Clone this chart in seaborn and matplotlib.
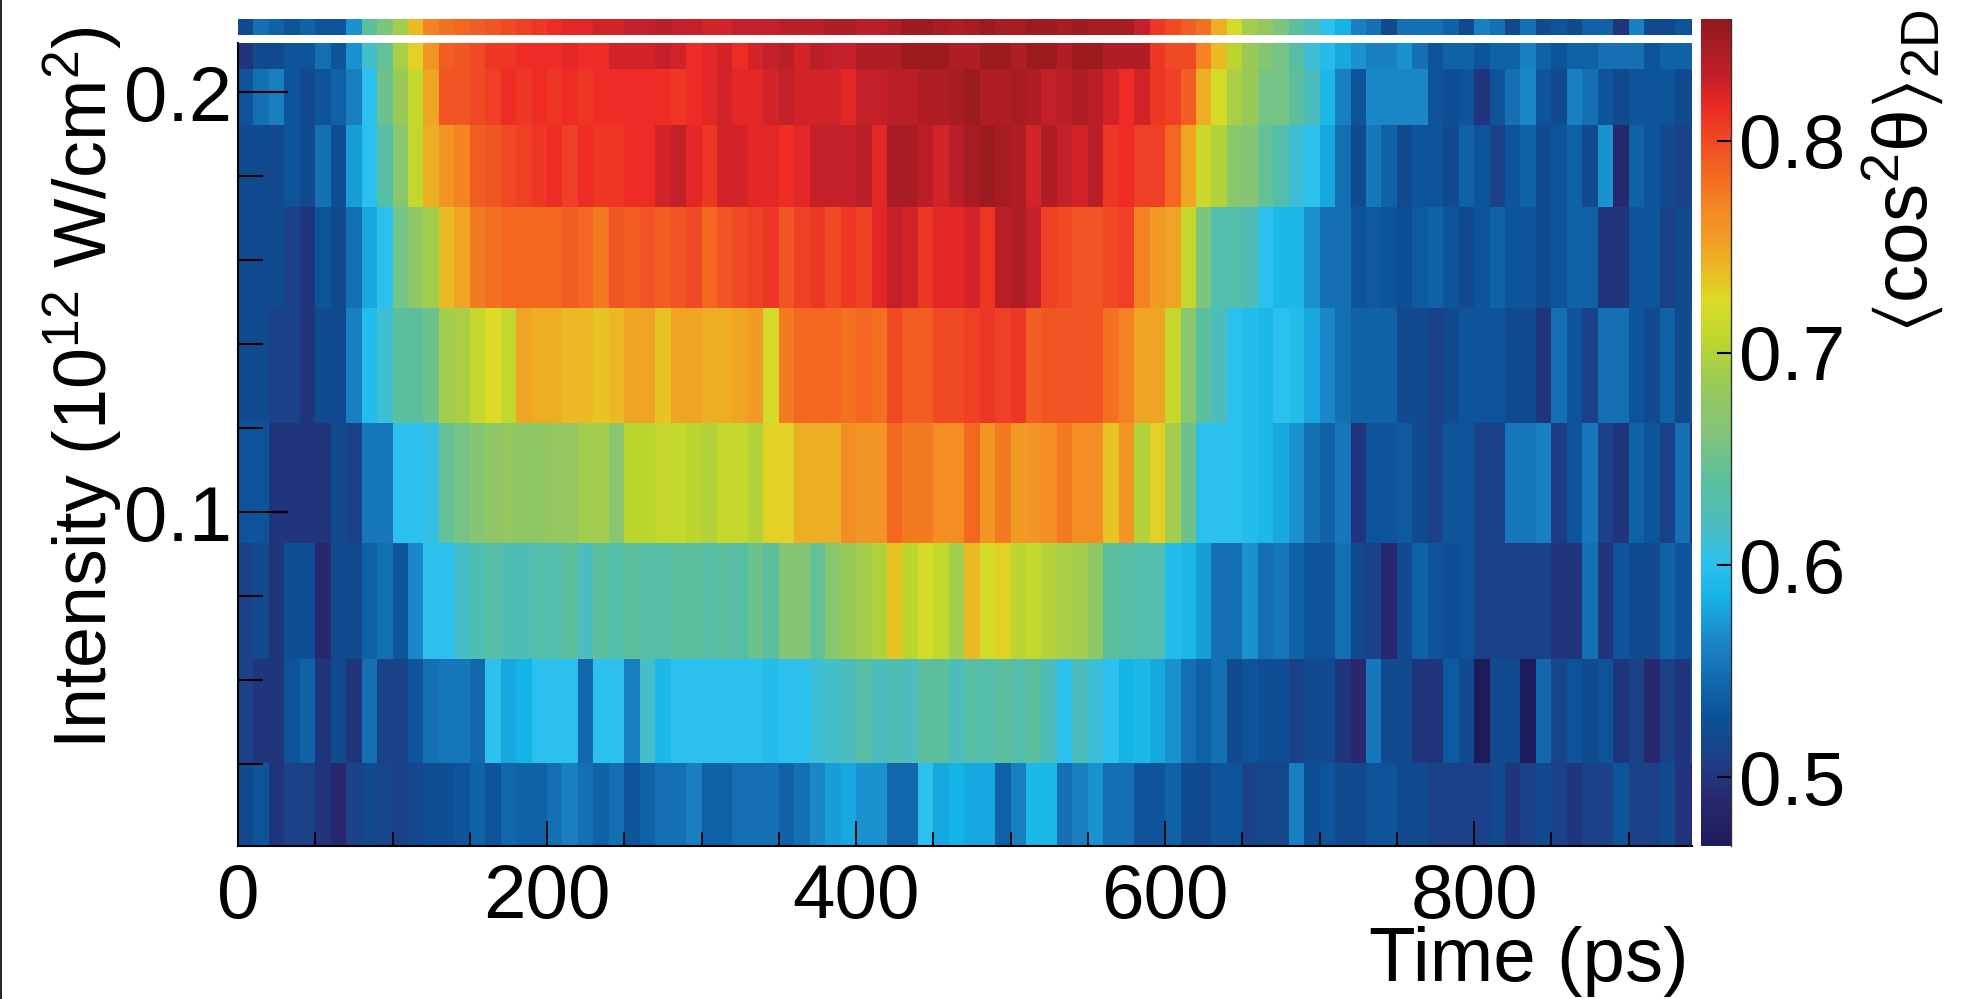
import matplotlib
matplotlib.use('Agg')
import matplotlib.pyplot as plt
import numpy as np
import seaborn as sns
from matplotlib.colors import LinearSegmentedColormap
from matplotlib.lines import Line2D

# cos^2 values x100, one column per 10 ps, rows from the top of the plot down
strip = [52, 55, 54, 53, 54, 53, 53, 57, 64, 66,
         69, 74, 77, 78, 78.5, 79, 79.5, 80, 80.5, 81,
         81.5, 82, 82, 82.5, 82.5, 83, 83, 83.5, 83, 83,
         82.5, 82.5, 83, 83, 83, 83.5, 83.5, 83.5, 84, 84,
         83.5, 83.5, 84, 85, 85, 84.5, 84, 84.5, 85, 84.5,
         84.5, 85, 85, 84.5, 85, 84.5, 84.5, 84.5, 83, 81,
         80, 79, 78, 74.5, 72, 69, 68, 66, 64, 62,
         60, 58.5, 56, 55, 52, 55, 55, 55, 54, 52,
         56, 55, 52, 55, 52, 53, 52, 54, 54, 50,
         56, 52, 52, 53, 52]
row_a = [50, 52, 52, 53, 53, 55, 53, 57, 61.5, 64.5,
         69.5, 73, 76, 79, 79.5, 80, 81, 81, 81.5, 81.5,
         81.5, 82, 81.5, 81.5, 82.5, 82.5, 82.5, 83, 82.5, 81.5,
         82, 82.5, 81.5, 82.5, 83, 83.5, 82.5, 83.5, 83, 83,
         84, 84, 84, 85, 85, 85, 84, 84, 85, 85,
         84, 85, 85, 84, 85, 85, 84, 84, 84, 81,
         80, 80, 77, 74, 70.5, 68.5, 66.5, 65.5, 63.5, 61,
         59.5, 58, 57, 56, 56, 57, 55, 53, 54, 54,
         53, 54, 54, 56, 54, 53, 54, 54, 55, 55,
         55, 53, 54, 54, 54]
row_b = [53, 55, 56, 53, 52, 53, 54, 56, 60, 65,
         68.5, 71, 75, 79.5, 79.5, 80, 80.5, 81.5, 81, 81.5,
         81, 81.5, 81, 81.5, 81.5, 81.5, 81.5, 81.5, 81, 81.5,
         82, 82.5, 82, 82, 82.5, 83, 82.5, 82.5, 82.5, 82,
         83, 83, 83.5, 83.5, 84, 84, 84.5, 85, 84, 84,
         84.5, 84, 83, 83.5, 84, 83.5, 82.5, 81.5, 82.5, 81,
         80.5, 79, 74.5, 72, 69.5, 68.5, 65.5, 65.5, 64, 62,
         59, 56, 53, 56.5, 56.5, 56.5, 56.5, 53, 52.5, 53,
         50, 53, 55, 56.5, 53, 52, 56, 55, 53, 52,
         53, 53, 53, 52, 52]
row_c = [52, 52, 52, 53, 52, 55, 52.5, 57.5, 60, 63.5,
         67, 71, 74.5, 76, 77, 79, 79.5, 80, 80.5, 81,
         81.5, 80.5, 81.5, 81, 81, 81.5, 81.5, 82.5, 83, 82,
         81, 82.5, 82.5, 82, 82, 81.5, 82, 83, 83, 83,
         83.5, 82, 84.5, 84.5, 83.5, 82.5, 83.5, 84.5, 85, 84.5,
         84, 82.5, 84, 83, 82.5, 83.5, 81, 81.5, 80.5, 80.5,
         78.5, 75, 71.5, 70, 67, 66.5, 64.5, 63, 61, 60,
         58, 55, 52, 55.5, 54, 52, 53, 53, 52, 54,
         53, 51, 53, 54, 52, 53, 54, 52, 57, 49,
         54, 53, 52, 51, 52]
row_d = [52, 52, 52, 51, 50, 53, 52, 55, 58, 60,
         65.5, 67.5, 69, 74, 75, 77.5, 78, 78.5, 78.5, 78.5,
         78.5, 79, 78.5, 77.5, 79.5, 79, 79.5, 79, 79.5, 80,
         78.5, 79.5, 80, 80.5, 81, 79.5, 80.5, 81, 80, 81,
         80.5, 82, 83, 82.5, 81, 82, 82, 82.5, 81, 83.5,
         84, 83, 80.5, 80, 79.5, 79.5, 80, 80.5, 77, 75.5,
         75, 71, 66, 63, 63, 62.5, 60, 59, 59, 57,
         55, 55, 53, 53.5, 53, 52.5, 53.5, 54, 53, 52,
         53, 54, 53, 53, 52, 53, 54, 54, 50, 50,
         53, 53, 51, 52, 52]
row_e = [52, 52, 51, 51, 50, 52, 52, 56, 59.5, 61,
         64, 64, 65, 69, 69.5, 71, 72.5, 71, 75, 74.5,
         74.5, 74, 74, 73.5, 74, 75, 75, 73.5, 75, 75,
         74.5, 74.5, 75, 75.5, 72, 77.5, 78.5, 78.5, 78.5, 78,
         78.5, 78, 80, 79, 79, 80, 80, 80.5, 81, 80.5,
         81, 79, 79.5, 79.5, 79.5, 79.5, 78, 77, 75, 75,
         71, 67, 64, 62, 60, 59.5, 59, 60, 59.5, 58,
         56.5, 55, 54, 54, 54, 52, 52, 51, 52, 53,
         53, 53, 52, 52, 50, 55, 53, 51, 55, 55,
         53, 52, 54, 52, 53]
row_f = [53, 53, 50, 50, 50, 50, 52, 51, 55.5, 55.5,
         60, 60, 60.5, 64.5, 65.5, 66.5, 67.5, 68, 67.5, 67.5,
         68, 68, 69, 69, 67, 70.5, 70.5, 71, 71, 70.5,
         70, 71, 71, 70, 73, 73, 74.5, 74.5, 74.5, 76.5,
         76, 76, 78.5, 77.5, 77.5, 76.5, 76.5, 78.5, 76, 77.5,
         75.5, 76, 76.5, 77.5, 76.5, 76.5, 73.5, 76, 70, 73,
         69, 65, 60, 60, 60, 59.5, 59, 58, 57, 55,
         54, 55.5, 50, 53, 53, 53.5, 52, 51, 53, 53,
         51, 51, 55.5, 55.5, 56, 50.5, 53, 55.5, 51, 50,
         54, 53, 51, 55, 50]
row_g = [51, 52, 50, 52.5, 52.5, 49, 52, 52, 54, 55,
         53, 56.5, 60, 60, 61.5, 62.5, 63.5, 62.5, 62.5, 63,
         63, 64, 62, 64, 63, 64, 63.5, 63.5, 64, 64,
         63.5, 64, 63.5, 65, 64, 66.5, 66.5, 64.5, 67, 68.5,
         69, 70, 73.5, 70.5, 72, 71, 69, 74, 72, 73,
         70.5, 71, 70, 69.5, 69, 67.5, 64, 63.5, 63, 63,
         59.5, 59, 57.5, 55, 55, 57, 55, 55.5, 54, 53,
         53, 55, 52, 51, 49, 52, 54, 53, 52.5, 53,
         51, 51, 51, 51, 51, 50, 50, 55, 50, 53,
         52, 52, 54, 53, 53]
row_h = [51, 50, 50, 53, 54, 50, 52, 50, 55, 51,
         51, 53, 55, 55.5, 55.5, 54.5, 60, 58, 58.5, 60,
         60, 60, 54.5, 60, 60, 56, 61.5, 59, 60, 60,
         60, 60, 60, 60, 59.5, 60, 60, 61, 61.5, 62,
         63.5, 62, 62.5, 62, 64, 64, 62, 63.5, 63, 64,
         63, 64, 62, 60, 62, 61, 60, 58.5, 59, 58,
         57, 55, 54, 55, 52, 53, 52.5, 52.5, 51, 52,
         52, 50, 49, 55.5, 52, 52, 50, 50, 53.5, 52,
         46.5, 52, 52, 46.5, 54.5, 51.5, 53, 52, 53, 50,
         51, 49, 51, 50, 52]
row_i = [52, 53, 50, 51, 51, 50, 49, 51, 52, 51.5,
         51, 51.5, 52.5, 52.5, 53, 54, 53, 54.5, 54, 54,
         55, 56, 55, 54, 55, 53, 54, 55, 55, 56,
         54, 54, 55, 55, 55, 54, 55, 56.5, 57.5, 58,
         57, 57, 54.5, 54.5, 60, 58, 58.5, 58, 58, 54,
         56, 59, 59, 55, 56, 57, 55, 55, 53, 53,
         54, 52, 52, 53, 53, 51, 51.5, 51.5, 56, 52.5,
         53, 52, 52, 53, 53, 52, 52, 51, 51, 51,
         51, 52, 50, 51, 52, 51, 50, 51, 51, 53,
         51, 51, 52, 50, 49]
gap = [np.nan] * 95
rows = [strip, gap, row_a, row_b, row_c, row_d, row_e, row_f, row_g, row_h, row_i]
row_heights = [16, 8, 26, 56, 82, 101, 115, 120, 116, 104, 83]

cbar_values = [0.4675, 0.49, 0.507, 0.527, 0.546, 0.566, 0.585, 0.60, 0.62, 0.64,
               0.664, 0.684, 0.705, 0.725, 0.736, 0.752, 0.767, 0.783, 0.80, 0.816,
               0.83, 0.8575]
cbar_colors = ['#1e1b5c', '#27286f', '#1d3f86', '#0c5096', '#126aae', '#1b8aca', '#14b4e6', '#2cc0ee', '#4cbdbc', '#5bbf9e',
               '#84c576', '#97c95a', '#bbd52f', '#dcdc26', '#e9c124', '#f0a024', '#f58a24', '#f36b21', '#ef4b24', '#ee2a24',
               '#c4202a', '#8f1a1e']
time_major = [0, 200, 400, 600, 800]
time_minor = [50, 100, 150, 250, 300, 350, 450, 500, 550, 650, 700, 750, 850, 900]
int_major = [0.2, 0.1]
int_minor = [0.18, 0.16, 0.14, 0.12, 0.08, 0.06, 0.04]
cbar_ticks = [0.5, 0.6, 0.7, 0.8]

sns.set_theme(style='white')
plt.rcParams['font.family'] = ['Liberation Sans', 'DejaVu Sans']
plt.rcParams['mathtext.fontset'] = 'custom'
plt.rcParams['mathtext.rm'] = 'Liberation Sans'
plt.rcParams['mathtext.it'] = 'Liberation Sans'
plt.rcParams['mathtext.bf'] = 'Liberation Sans'
plt.rcParams['mathtext.default'] = 'regular'

W, H = 1970, 999
vmin, vmax = cbar_values[0], cbar_values[-1]
cmap = LinearSegmentedColormap.from_list(
    'jetish', [((v - vmin) / (vmax - vmin), c) for v, c in zip(cbar_values, cbar_colors)], N=512)

data = np.repeat(np.array(rows, dtype=float) / 100, row_heights, axis=0)

fig = plt.figure(figsize=(W / 100, H / 100), dpi=100)
ax = fig.add_axes([238 / W, 1 - 846 / H, 1454 / W, 827 / H])
cax = fig.add_axes([1701 / W, 1 - 846 / H, 30 / W, 827 / H])
sns.heatmap(data, ax=ax, cbar_ax=cax, cmap=cmap, vmin=vmin, vmax=vmax,
            xticklabels=False, yticklabels=False)
ax.set_xlim(0, 94.1)
ax.set_ylim(data.shape[0], 0)
ax.set_axisbelow(False)
cax.set_axisbelow(False)

# x axis is in 10 ps columns, y axis in pixel rows of the repeated matrix
def col(t):
    return np.array(t) / 10

def row(i):
    return 73 + (0.2 - np.array(i)) * 4200

ax.set_xticks(col(time_major))
ax.set_xticklabels(time_major)
ax.set_xticks(col(time_minor), minor=True)
ax.set_yticks(row(int_major))
ax.set_yticklabels(int_major)
ax.set_yticks(row(int_minor), minor=True)
ax.tick_params(axis='x', which='major', direction='in', length=18, width=1.3, color='black',
               bottom=True, labelsize=55, pad=12, labelcolor='black')
ax.tick_params(axis='x', which='minor', direction='in', length=10, width=1.3, color='black', bottom=True)
ax.tick_params(axis='y', which='major', direction='in', length=36, width=1.5, color='black',
               left=True, labelsize=56, pad=4, labelcolor='black')
ax.tick_params(axis='y', which='minor', direction='in', length=18, width=1.5, color='black', left=True)
plt.setp(ax.get_yticklabels(), rotation=0)
plt.setp(ax.get_xticklabels(), rotation=0)
for side in ['left', 'bottom']:
    ax.spines[side].set_visible(True)
    ax.spines[side].set_color('black')
    ax.spines[side].set_linewidth(1.5)
    ax.spines[side].set_zorder(5)
ax.spines['left'].set_bounds(data.shape[0], 24)

cb = ax.collections[0].colorbar
cb.set_ticks(cbar_ticks)
cb.set_ticklabels(['0.5', '0.6', '0.7', '0.8'])
cb.outline.set_visible(False)
cax.spines['right'].set_visible(True)
cax.spines['right'].set_color('#333333')
cax.spines['right'].set_linewidth(1)
cax.tick_params(axis='y', which='both', direction='in', length=10, width=1.5, color='black',
                right=True, labelsize=55, pad=6, labelcolor='black')

fig.text(1689 / W, 1 - 981 / H, 'Time (ps)', ha='right', va='baseline', fontsize=55, color='black')
fig.text(107 / W, 1 - 749 / H, r'Intensity (10$^{12}$ W/cm$^{2}$)', rotation=90, rotation_mode='anchor',
         ha='left', va='baseline', fontsize=53, color='black')
fig.text(1927 / W, 1 - 333 / H, r'$\langle$cos$^{2}\theta\rangle_{2D}$', rotation=90, rotation_mode='anchor',
         ha='left', va='baseline', fontsize=55, color='black')
fig.add_artist(Line2D([0.0006, 0.0006], [0, 1], color='black', lw=1.2))

fig.savefig('out.png', dpi=100)
